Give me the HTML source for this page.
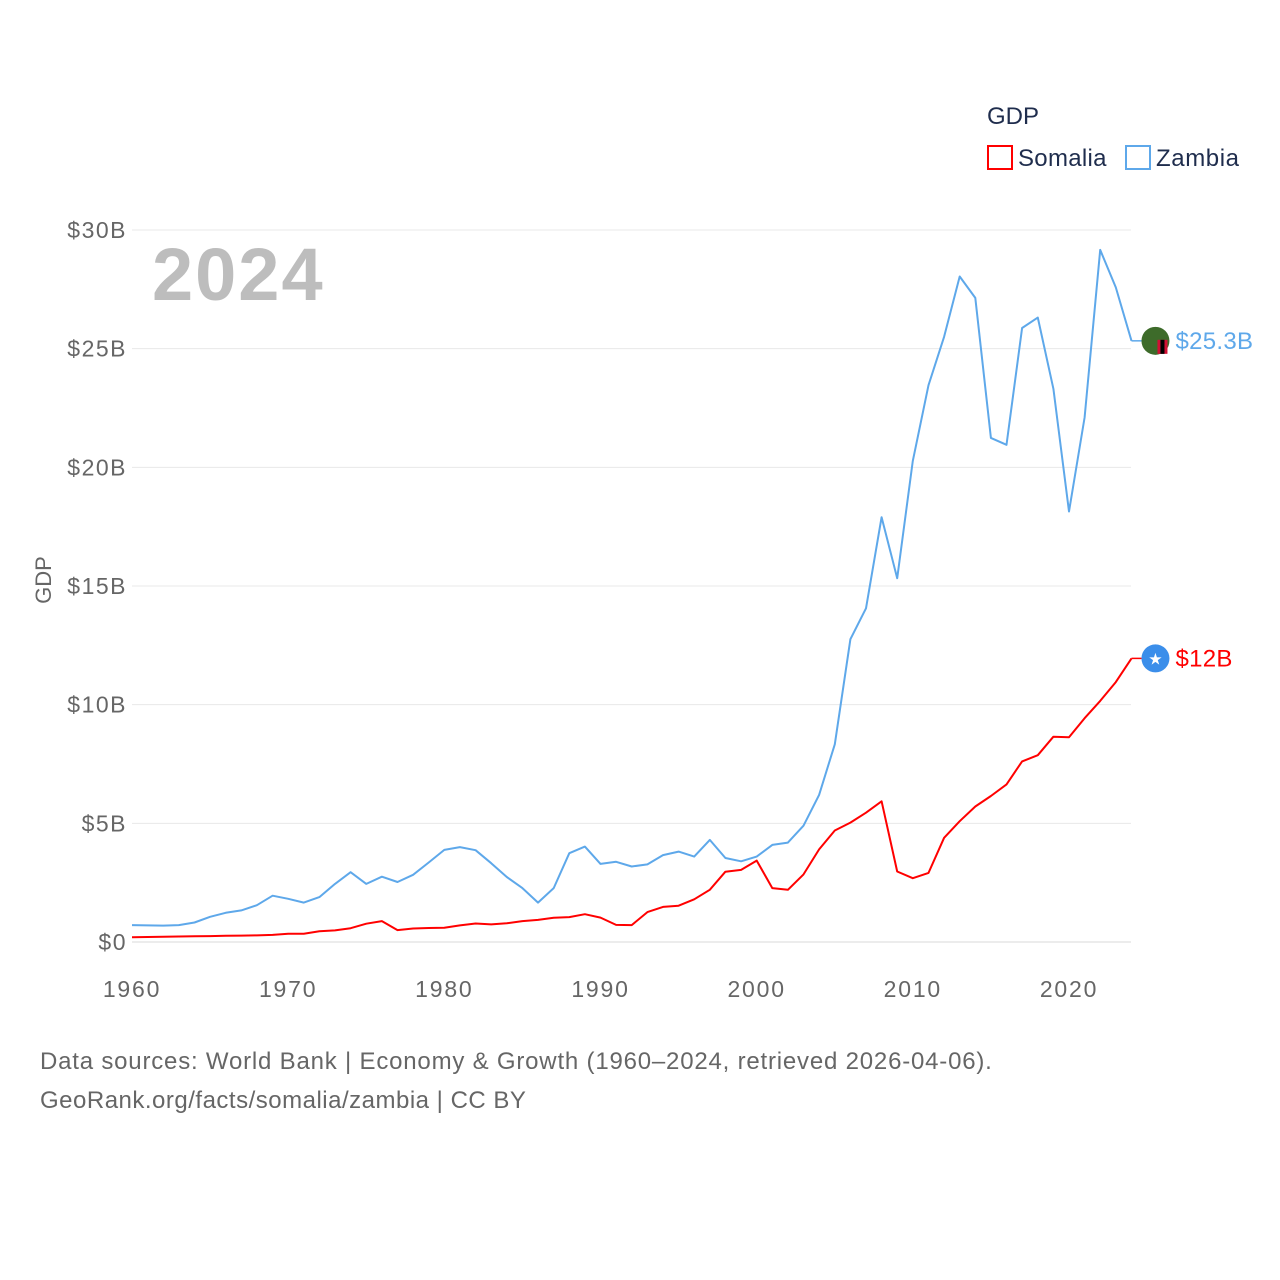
<!DOCTYPE html>
<html><head><meta charset="utf-8">
<style>
body{margin:0;background:#fff;}
svg{display:block;font-family:"Liberation Sans",sans-serif;}
</style></head>
<body>
<svg id="chart" width="1280" height="1280" viewBox="0 0 1280 1280" xmlns="http://www.w3.org/2000/svg">
<text x="987" y="124" font-size="24" fill="#1f2d4d">GDP</text>
<g>
<rect x="988" y="146" width="24" height="23" fill="none" stroke="#ff0000" stroke-width="2"/>
<text x="1018" y="166" font-size="24" fill="#1f2d4d" letter-spacing="0.3">Somalia</text></g>
<g>
<rect x="1126" y="146" width="24" height="23" fill="none" stroke="#5ea8ea" stroke-width="2"/>
<text x="1156" y="166" font-size="24" fill="#1f2d4d" letter-spacing="0.6">Zambia</text></g>
<g id="grid"></g>
<g id="yticks"></g>
<g id="xticks"></g>
<text x="152" y="300" font-size="74" font-weight="bold" fill="#bdbdbd" letter-spacing="2">2024</text>
<text transform="translate(51,580) rotate(-90)" text-anchor="middle" font-size="22" fill="#666">GDP</text>
<g id="series"></g>
<text x="40" y="1069" font-size="24" fill="#666" letter-spacing="0.8">Data sources: World Bank | Economy &amp; Growth (1960–2024, retrieved 2026-04-06).</text>
<text x="40" y="1108" font-size="24" fill="#666" letter-spacing="0.5">GeoRank.org/facts/somalia/zambia | CC BY</text>
</svg>
<script>
const years = Array.from({length:65},(_, i)=>1960+i);
const zambia = [0.71,0.70,0.69,0.71,0.82,1.06,1.23,1.33,1.55,1.95,1.82,1.66,1.89,2.45,2.94,2.45,2.75,2.53,2.83,3.35,3.88,4.0,3.87,3.32,2.74,2.27,1.66,2.27,3.74,4.02,3.29,3.38,3.18,3.27,3.66,3.81,3.6,4.3,3.54,3.4,3.6,4.09,4.19,4.9,6.2,8.33,12.76,14.06,17.9,15.33,20.27,23.46,25.5,28.04,27.14,21.24,20.95,25.87,26.31,23.31,18.14,22.1,29.16,27.58,25.33];
const somalia = [0.2,0.21,0.22,0.23,0.24,0.25,0.26,0.27,0.28,0.3,0.35,0.35,0.45,0.49,0.58,0.77,0.88,0.5,0.57,0.59,0.6,0.7,0.78,0.74,0.79,0.88,0.93,1.02,1.05,1.17,1.03,0.72,0.71,1.26,1.48,1.53,1.8,2.2,2.96,3.04,3.43,2.27,2.2,2.85,3.9,4.7,5.03,5.45,5.93,2.97,2.69,2.91,4.39,5.09,5.71,6.15,6.64,7.61,7.87,8.65,8.63,9.43,10.16,10.95,11.95];
const yTickValues = [0,5,10,15,20,25,30];
const yTickLabels = ["$0","$5B","$10B","$15B","$20B","$25B","$30B"];
const xTickValues = [1960,1970,1980,1990,2000,2010,2020];
const endLabels = ["$25.3B","$12B"];

const NS="http://www.w3.org/2000/svg";
const X = y => 132 + (y-1960)*(937/60);
const Y = v => 942 - v*(712/30);
function mk(tag, attrs, parent){const e=document.createElementNS(NS,tag);for(const k in attrs)e.setAttribute(k,attrs[k]);parent.appendChild(e);return e;}
const grid=document.getElementById('grid'), yt=document.getElementById('yticks'), xt=document.getElementById('xticks'), ser=document.getElementById('series');
yTickValues.forEach((v,i)=>{
  const l=mk('line',{x1:132,x2:1131,y1:Y(v),y2:Y(v),stroke:i===0?'#d8d8d8':'#e8e8e8','stroke-width':1},grid);
  
  
  const t=mk('text',{x:127,y:Y(v)+8,'text-anchor':'end','font-size':23,fill:'#666','letter-spacing':1.5},yt);
  t.textContent=yTickLabels[i];
  
  
});
xTickValues.forEach(v=>{
  const t=mk('text',{x:X(v),y:997,'text-anchor':'middle','font-size':23,fill:'#666','letter-spacing':1.8},xt);
  t.textContent=v;
  
  
});
function drawLine(vals,color,name,label){
  const d=vals.map((v,i)=>(i?'L':'M')+X(years[i]).toFixed(1)+','+Y(v).toFixed(1)).join('');
  const p=mk('path',{d:d,fill:'none',stroke:color,'stroke-width':2,'stroke-linejoin':'round'},ser);
  
  
  const last=vals[vals.length-1], ly=Y(last), lx=X(years[years.length-1]);
  mk('line',{x1:lx,x2:lx+10,y1:ly,y2:ly,stroke:color,'stroke-width':1.5},ser);
  const c=mk('circle',{cx:lx+24,cy:ly,r:14,fill:name==='zambia'?'#3d6b2a':'#3b8eea'},ser);
  
  
  if(name==='somalia'){const s=mk('text',{x:lx+24,y:ly+6,'text-anchor':'middle','font-size':16,fill:'#fff'},ser);s.textContent='★';}
  else{mk('rect',{x:lx+26,y:ly-1,width:10,height:14,fill:'#d21034'},ser);mk('rect',{x:lx+29,y:ly-1,width:4,height:14,fill:'#000'},ser);}
  const t=mk('text',{x:lx+44,y:ly+8,'font-size':24,fill:color,'letter-spacing':0.3},ser);
  t.textContent=label;
  
  
}
drawLine(zambia,'#5ea8ea','zambia',endLabels[0]);
drawLine(somalia,'#ff0000','somalia',endLabels[1]);
</script>
</body></html>
